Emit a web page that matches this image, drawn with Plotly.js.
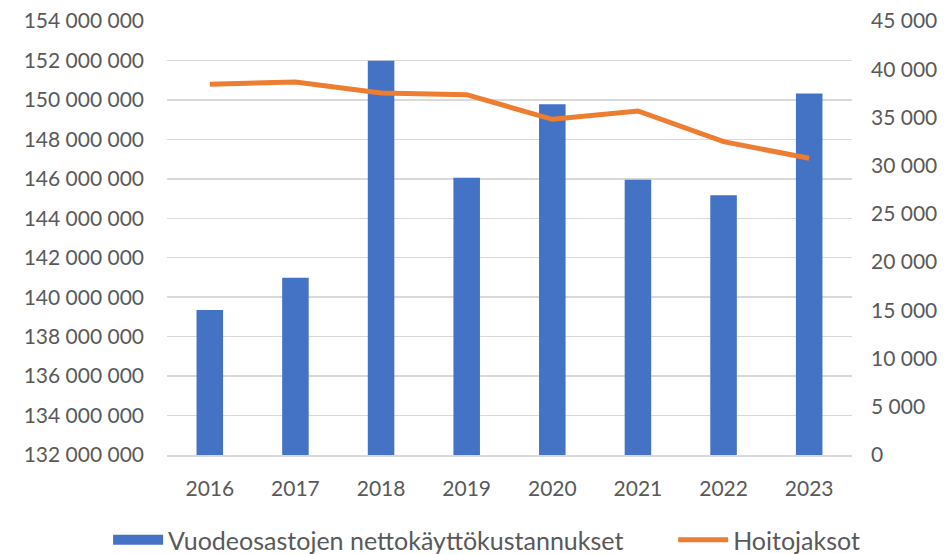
<!DOCTYPE html>
<html>
<head>
<meta charset="utf-8">
<script src="https://cdn.plot.ly/plotly-3.0.1.min.js"></script>
<style>
  html, body { margin: 0; padding: 0; background: #fff; }
  #chart { width: 950px; height: 554px; }
</style>
</head>
<body>
<div id="chart"></div>
<script>
let years = ['2016', '2017', '2018', '2019', '2020', '2021', '2022', '2023'];

// nettokäyttökustannukset (euroa)
let costs = [139350000, 140980000, 151980000, 146050000, 149780000, 145950000, 145170000, 150330000];

// hoitojaksot (kpl)
let periods = [38440, 38680, 37540, 37360, 34810, 35670, 32490, 30770];

let costName = 'Vuodeosastojen nettokäyttökustannukset';
let periodName = 'Hoitojaksot';

let textColor = '#595959';
let fontFamily = 'Lato, "Open Sans", sans-serif';
let blue = '#4472C4';
let orange = '#ED7D31';

// a little extra room between the two legend entries
let legendPad = '\u00a0'.repeat(7);

let costTrace = {
  x: years,
  y: costs,
  type: 'bar',
  name: costName,
  legendgroup: 'cost',
  showlegend: false,
  marker: { color: blue },
  hoverinfo: 'x+y'
};

// legend entry only: wide flat swatch like the original
let costKey = {
  x: [years[0]],
  y: [null],
  type: 'scatter',
  mode: 'lines',
  name: costName + legendPad,
  legendgroup: 'cost',
  line: { color: blue, width: 14 },
  hoverinfo: 'skip'
};

let periodTrace = {
  x: years,
  y: periods,
  type: 'scatter',
  mode: 'lines',
  yaxis: 'y2',
  name: periodName,
  line: { color: orange, width: 5 }
};

let data = [costTrace, costKey, periodTrace];

let layout = {
  width: 950,
  height: 554,
  margin: { l: 167, r: 98, t: 21, b: 99, autoexpand: false },
  paper_bgcolor: '#ffffff',
  plot_bgcolor: '#ffffff',
  separators: ', ',
  font: { family: fontFamily, size: 21, color: textColor },
  bargap: 0.69,
  showlegend: true,
  legend: {
    orientation: 'h',
    x: -0.086,
    xanchor: 'left',
    y: -0.196,
    yanchor: 'middle',
    font: { family: fontFamily, size: 25, color: textColor },
    itemwidth: 50,
    traceorder: 'normal'
  },
  xaxis: {
    type: 'category',
    showgrid: false,
    showline: true,
    linecolor: '#d9d9d9',
    linewidth: 1.5,
    ticks: '',
    ticklabelstandoff: 14,
    tickfont: { size: 21, color: textColor }
  },
  yaxis: {
    range: [132000000, 154000000],
    dtick: 2000000,
    tick0: 132000000,
    tickformat: ',d',
    showgrid: true,
    gridcolor: '#d9d9d9',
    gridwidth: 1.5,
    zeroline: false,
    showline: false,
    ticks: '',
    ticklabelstandoff: 22,
    tickfont: { size: 21, color: textColor }
  },
  yaxis2: {
    overlaying: 'y',
    side: 'right',
    range: [0, 45000],
    dtick: 5000,
    tickformat: ',d',
    showgrid: false,
    zeroline: false,
    showline: false,
    ticks: '',
    ticklabelstandoff: 18,
    tickfont: { size: 21, color: textColor }
  }
};

Plotly.newPlot('chart', data, layout, { displayModeBar: false, staticPlot: true });
</script>
</body>
</html>
